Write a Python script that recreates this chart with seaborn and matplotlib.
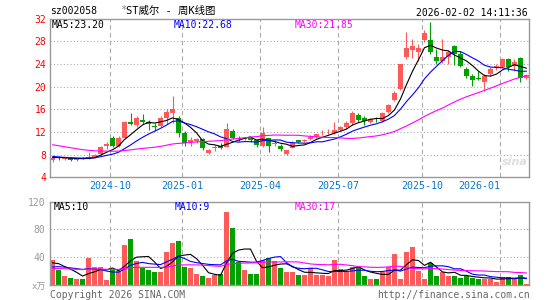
import numpy as np
import pandas as pd
import matplotlib
matplotlib.use('Agg')
import matplotlib.pyplot as plt
import seaborn as sns

# 周K线, 每周一为一根K线的日期
week_start = '2024-07-29'

opens = [7.0, 7.5, 7.3, 7.45, 7.0, 7.4, 7.3, 7.55, 8.2, 9.6,
         10.9, 9.5, 10.95, 13.8, 13.2, 14.2, 13.7, 13.1, 13.1, 14.5,
         15.4, 14.5, 11.9, 10.3, 10.4, 10.7, 8.35, 9.2, 9.5, 9.4,
         12.2, 11.0, 10.8, 10.9, 10.5, 9.5, 10.9, 9.8, 9.6, 8.2,
         9.2, 10.5, 10.4, 10.7, 11.1, 11.75, 11.95, 11.9, 12.4, 12.8,
         13.5, 15.0, 14.4, 13.8, 14.35, 13.9, 15.5, 17.7, 19.6, 25.2,
         26.5, 26.2, 28.2, 28.3, 25.3, 24.6, 25.3, 27.1, 25.8, 23.1,
         21.9, 21.45, 20.9, 22.2, 23.4, 23.5, 24.9, 23.7, 25.1, 21.5]
closes = [7.45, 7.4, 7.45, 7.0, 7.3, 7.3, 7.6, 8.0, 9.3, 9.9,
          9.5, 10.9, 13.8, 13.4, 14.4, 13.7, 13.4, 12.95, 14.5, 15.6,
          16.0, 11.9, 10.0, 10.6, 10.7, 9.2, 8.8, 9.4, 9.2, 12.5,
          11.0, 10.7, 10.95, 10.5, 9.7, 11.9, 9.5, 10.0, 9.0, 8.8,
          10.0, 10.3, 10.5, 11.1, 11.6, 11.85, 12.05, 12.4, 12.8, 13.5,
          15.4, 14.1, 13.9, 14.3, 14.25, 15.3, 16.8, 18.8, 24.0, 26.9,
          27.1, 26.9, 29.5, 26.1, 24.5, 25.3, 26.2, 25.8, 23.6, 21.8,
          21.2, 21.3, 21.9, 23.1, 23.6, 24.9, 23.5, 24.3, 21.5, 22.1]
highs = [7.6, 7.8, 7.6, 7.5, 7.4, 7.6, 8.4, 8.2, 9.6, 10.2,
         11.35, 11.3, 14.0, 15.4, 14.8, 15.2, 14.1, 13.5, 14.9, 16.0,
         18.4, 14.9, 12.2, 11.1, 11.0, 11.0, 9.0, 9.7, 10.1, 13.6,
         12.6, 11.3, 11.2, 11.1, 10.8, 12.8, 11.0, 10.5, 9.9, 8.9,
         10.4, 10.6, 10.8, 11.5, 11.7, 12.3, 12.5, 13.8, 13.1, 13.9,
         15.7, 15.4, 14.8, 14.4, 14.6, 15.5, 17.0, 19.2, 24.0, 29.7,
         28.4, 27.5, 30.0, 31.5, 26.6, 28.5, 26.5, 27.3, 26.3, 23.4,
         22.2, 22.7, 22.2, 23.4, 24.0, 25.1, 25.0, 24.9, 25.2, 22.3]
lows = [6.75, 7.1, 7.0, 6.9, 6.8, 7.15, 7.2, 7.45, 8.0, 9.0,
        9.3, 9.3, 10.8, 13.2, 12.8, 13.4, 12.4, 12.2, 12.8, 13.4,
        13.5, 11.2, 9.6, 9.6, 10.1, 8.8, 8.2, 8.65, 9.0, 9.3,
        10.7, 10.4, 10.5, 10.3, 9.4, 9.4, 8.5, 9.5, 8.6, 8.0,
        9.1, 10.0, 10.3, 10.6, 11.0, 11.5, 11.6, 11.7, 12.2, 12.6,
        13.3, 13.8, 13.2, 13.6, 13.8, 13.7, 15.3, 17.5, 19.5, 24.9,
        25.1, 24.6, 27.8, 25.8, 24.0, 24.2, 24.0, 23.8, 23.4, 21.6,
        20.2, 21.1, 19.3, 21.9, 23.0, 23.3, 22.8, 22.8, 20.9, 21.4]
# 成交量(万手)
volumes = [36.6, 22, 13.5, 10.6, 9, 9, 39.5, 26.5, 26.5, 7.7,
           22, 20, 58, 66, 34, 25, 22, 19, 19, 47,
           60, 63, 26, 24, 16.4, 12.5, 9.6, 14.5, 16.4, 105,
           82, 33, 22, 16.4, 16.4, 36.6, 38.5, 34, 25, 18.3,
           18.3, 15, 15, 24, 15, 15, 13.5, 36.6, 23.6, 18.3,
           26.5, 26, 13.5, 9, 9, 18.3, 26.5, 44, 9, 48,
           54, 20.7, 9, 32, 13.5, 19, 13.5, 13.5, 10.6, 12.5,
           10.6, 9, 9, 9, 4.8, 11.5, 11.5, 9, 15, 2]

# 图左侧之前29周(只用来让均线从左边就有值)
prior_closes = [12.8, 12.6, 12.5, 12.4, 12.3, 11.0, 10.8, 10.5, 10.3, 10.0,
                10.6, 10.4, 10.2, 10.0, 10.1, 10.3, 10.0, 9.8, 9.6, 9.4,
                8.6, 8.1, 7.8, 7.6, 7.5, 7.4, 7.5, 7.6, 7.5]
prior_volumes = [22, 20, 25, 18, 24, 21, 19, 26, 23, 20,
                 22, 25, 28, 19, 21, 24, 20, 23, 26, 22,
                 18, 20, 22, 19, 21, 28, 34, 30, 31]

# 各月第一个交易日
month_first_days = ['2024-10-08', '2025-01-02', '2025-04-01',
                    '2025-07-01', '2025-10-09', '2026-01-05']
price_ticks = [4, 8, 12, 16, 20, 24, 28, 32]
vol_ticks = [40, 80, 120]

code = 'sz002058'
title_star = '*'
title_rest = 'ST威尔 - 周K线图'
stamp = '2026-02-02 14:11:36'
ma_price_text = ['MA5:23.20', 'MA10:22.68', 'MA30:21.85']
ma_vol_text = ['MA5:10', 'MA10:9', 'MA30:17']

RED = '#FF5A5A'
GREEN = '#00A000'
MA_COLORS = ['#000000', '#0000FF', '#FF00FF']
GRID = '#AAAAAA'
FRAME = '#999999'
MONO = ['DejaVu Sans Mono', 'Noto Sans CJK SC']

sns.set_style('white')
plt.rcParams['font.family'] = MONO

n = len(closes)
idx = np.arange(n)
up = np.array(closes) >= np.array(opens)
cols = np.where(up, RED, GREEN)

all_c = pd.Series(prior_closes + closes, dtype=float)
all_v = pd.Series(prior_volumes + volumes, dtype=float)
ma_c = [all_c.rolling(w).mean().iloc[len(prior_closes):].values for w in (5, 10, 30)]
ma_v = [all_v.rolling(w).mean().iloc[len(prior_volumes):].values for w in (5, 10, 30)]

t0 = pd.Timestamp(week_start)
tick_idx = [(pd.Timestamp(d) - t0).days // 7 for d in month_first_days]
tick_lab = [d[:7] for d in month_first_days]
grid_x = [k - 0.42 for k in tick_idx]

W, H = 545, 300
fig = plt.figure(figsize=(W / 100, H / 100), dpi=100)
fig.patch.set_facecolor('white')
ax = fig.add_axes([50 / W, 1 - 177.3 / H, 479 / W, 158.6 / H])
axv = fig.add_axes([50 / W, 1 - 285 / H, 479 / W, 83.5 / H])

# K线
ax.vlines(idx, lows, highs, colors=cols, lw=0.8, zorder=2)
body_lo = np.minimum(opens, closes)
body_h = np.maximum(np.abs(np.array(closes) - np.array(opens)), 0.07)
ax.bar(idx, body_h, bottom=body_lo, width=0.8, color=cols, linewidth=0, zorder=2)
for m, c in zip(ma_c, MA_COLORS):
    sns.lineplot(x=idx, y=m, ax=ax, color=c, lw=0.8, zorder=3)

# 成交量
df_v = pd.DataFrame({'week': idx, 'vol': volumes, 'dir': np.where(up, 'up', 'down')})
sns.barplot(data=df_v, x='week', y='vol', hue='dir', palette={'up': RED, 'down': GREEN},
            native_scale=True, dodge=False, width=0.8, saturation=1, legend=False,
            errorbar=None, linewidth=0, ax=axv, zorder=2)
for m, c in zip(ma_v, MA_COLORS):
    sns.lineplot(x=idx, y=m, ax=axv, color=c, lw=0.8, zorder=3)

for a in (ax, axv):
    a.set_xlim(-0.42, n - 0.58)
    a.set_xlabel('')
    a.set_ylabel('')
    a.set_xticks([])
    for s in a.spines.values():
        s.set_color(FRAME)
        s.set_linewidth(1.0)
    for gx in grid_x:
        a.axvline(gx, color=GRID, lw=0.8, ls=(0, (4, 3)), zorder=1)

ax.set_ylim(4, 32)
ax.set_yticks(price_ticks)
ax.set_yticklabels([str(v) for v in price_ticks])
ax.tick_params(axis='y', length=0, pad=2.5, labelsize=7, labelcolor='#FF0000')
for v in price_ticks[1:-1]:
    ax.axhline(v, color=GRID, lw=0.8, ls=(0, (1, 2)), zorder=1)

axv.set_ylim(0, 120)
axv.set_yticks(vol_ticks)
axv.set_yticklabels([str(v) for v in vol_ticks])
axv.tick_params(axis='y', length=0, pad=3.5, labelsize=7, labelcolor='#999999')
for v in vol_ticks[:-1]:
    axv.axhline(v, color=GRID, lw=0.8, ls=(0, (1, 2)), zorder=1)

# 月份标签, 最后一个靠右对齐
trans = matplotlib.transforms.blended_transform_factory(ax.transData, ax.transAxes)
for i, (gx, lab) in enumerate(zip(grid_x, tick_lab)):
    ha = 'right' if i == len(grid_x) - 1 else 'center'
    ax.text(gx, -0.055, lab, transform=trans, ha=ha, va='center',
            fontsize=7.2, color='#0A78C8')

def ftext(x, y, s, **kw):
    kw.setdefault('fontsize', 7)
    kw.setdefault('va', 'center')
    fig.text(x / W, 1 - y / H, s, **kw)

ftext(50, 11, code, color='black')
ftext(120, 10.5, title_star, color='#888888', fontsize=7.5)
ftext(126, 10.5, title_rest, color='black', fontsize=7.5)
ftext(528, 12.5, stamp, color='black', ha='right')

for x, s, c in zip((52, 174, 295), ma_price_text, MA_COLORS):
    ftext(x, 25, s, color=c)
for x, s, c in zip((54, 175, 295), ma_vol_text, MA_COLORS):
    ftext(x, 206.5, s, color=c)

ftext(46, 287, 'x万', color='#999999', ha='right', fontsize=6.5)
ftext(50, 294.5, 'Copyright 2026 SINA.COM', color='#666666')
ftext(530, 294.5, 'http://finance.sina.com.cn', color='#666666', ha='right')
# 右下角水印
ftext(502, 162, 'sina', color='#DDDDDD', fontsize=8, style='italic',
      fontweight='bold', family='DejaVu Sans')

fig.savefig('out.png', dpi=100, facecolor='white')
